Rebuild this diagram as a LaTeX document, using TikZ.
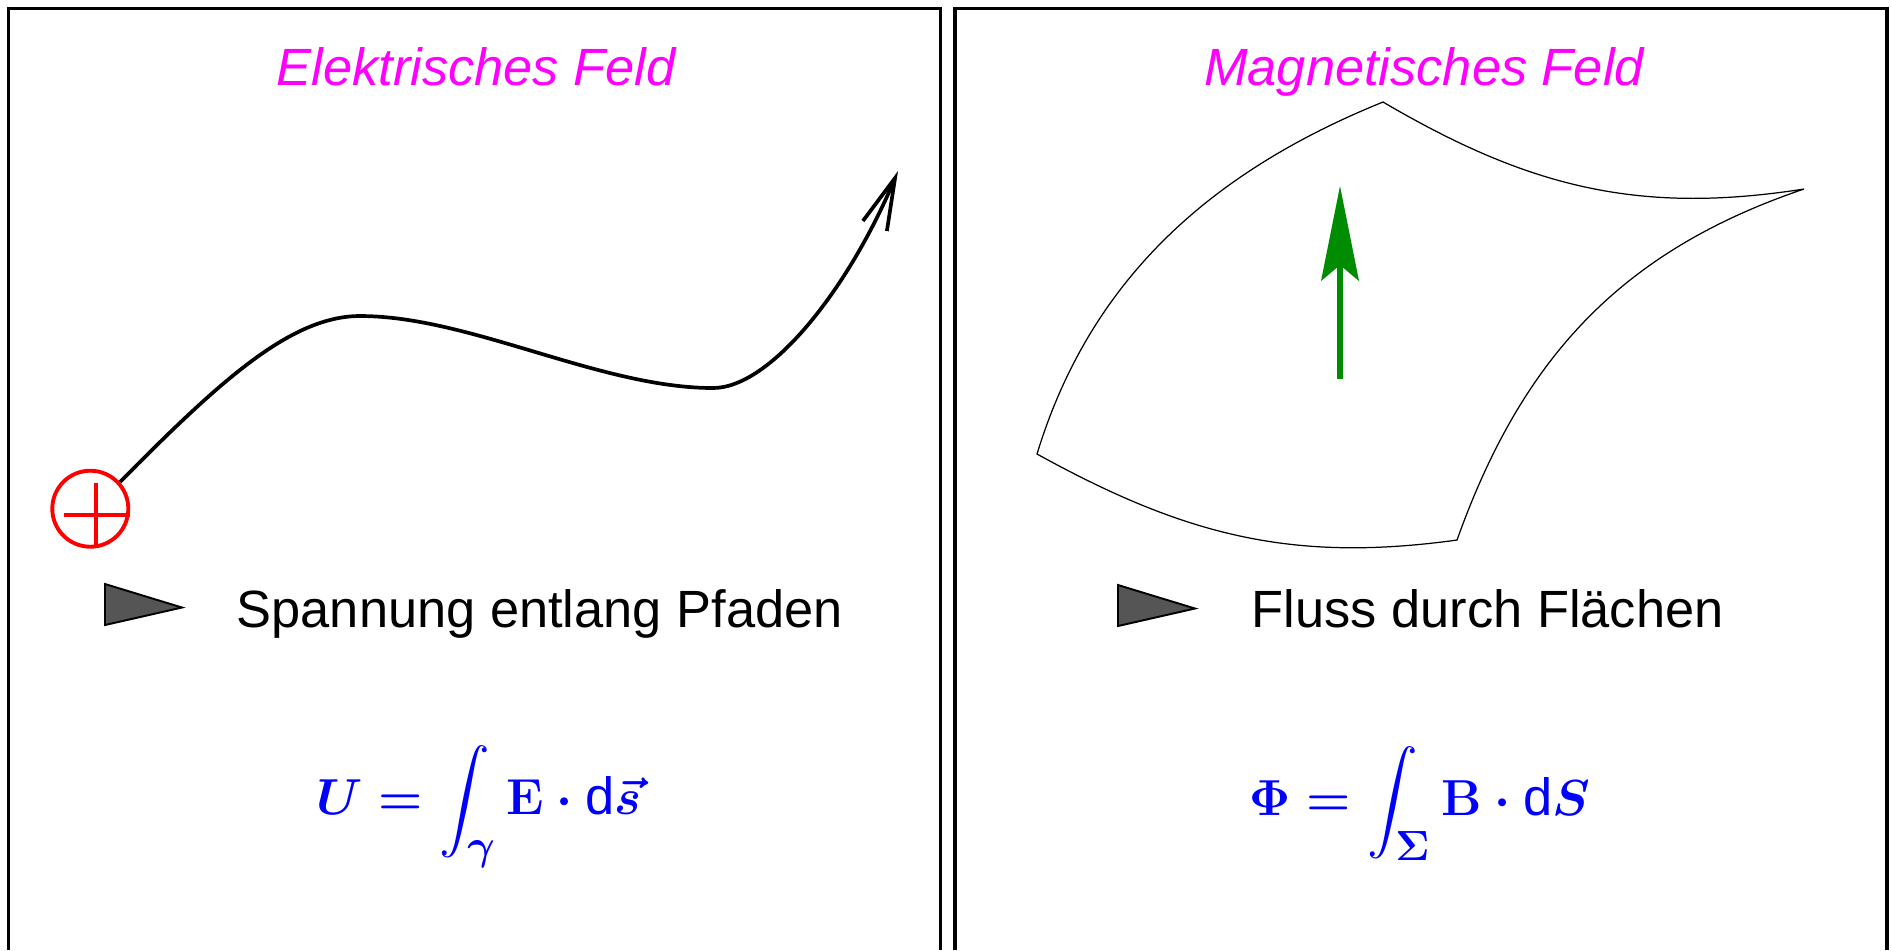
\documentclass[tikz,border=0pt]{standalone}
\usepackage{amsmath}
\usepackage[no-math]{fontspec}
\setmainfont{Liberation Sans}
\DeclareMathSizes{14.9}{14.9}{12}{9}
\definecolor{TitleColor}{RGB}{255,0,255}
\definecolor{FormulaColor}{RGB}{0,0,255}
\definecolor{ChargeColor}{RGB}{255,0,0}
\definecolor{NormalColor}{RGB}{0,140,0}
\definecolor{BulletColor}{RGB}{85,85,85}
\usetikzlibrary{arrows.meta, positioning}
\tikzset{
    panel/.style={draw=black, line width=0.94pt},
    paneltitle/.style={
        font=\fontsize{14.9}{18}\selectfont\itshape,
        text=TitleColor,
        inner sep=0pt,
        anchor=base
    },
    bullet/.style={draw=black, line width=0.55pt, fill=BulletColor},
    bullettext/.style={font=\fontsize{14.9}{18}\selectfont, inner sep=0pt, anchor=base west},
    formula/.style={font=\fontsize{14.9}{18}\selectfont\boldmath, text=FormulaColor, inner sep=0pt, anchor=base},
    charge/.style={circle, draw=ChargeColor, line width=1.1pt, minimum size=0.76cm, inner sep=0pt},
    fieldpath/.style={line width=1.05pt, -{Straight Barb[length=5.2mm,width=2.6mm]}},
    surface/.style={draw=black, line width=0.35pt},
    normalarrow/.style={draw=NormalColor, line width=1.5pt, -{Stealth[length=9.5mm,width=3.8mm,inset=1.6mm,line width=0pt]}}
}

\begin{document}
\begin{tikzpicture}[x=0.01cm, y=-0.01cm]
        \useasboundingbox (0,0) rectangle (1891,950);

        % panels
        \draw[panel] (8.8,950) |- (940.3,8.8) -- (940.3,950);
        \draw[panel] (955,950) |- (1887,8.8) -- (1887,950);

        \node[paneltitle] (etitle) at (476,85) {Elektrisches Feld};
        \node[paneltitle] (mtitle) at (1424,85) {Magnetisches Feld};

        % electric field: charge and path
        \node[charge] (charge) at (90.3,508.7) {};
        \draw[ChargeColor, line width=1.1pt] (64,515) -- (130,515) (95.7,483) -- (95.7,548);

        \coordinate (peak) at (360,316);
        \coordinate (trough) at (713,388);
        \coordinate (tip) at (898,171);
        \draw[fieldpath] (charge.42) .. controls (218,383) and (290,316) .. (peak)
            .. controls (470,316) and (600,388) .. (trough)
            .. controls (770,388) and (848,290) .. (tip);

        \draw[bullet] (105,584) -- (105,625) -- (182,607.5) -- cycle;
        \node[bullettext] (voltage) at (236,627) {Spannung entlang Pfaden};

        \node[formula] (uformula) at (479,814) {$\displaystyle U = \int_\gamma \mathbf{E}\cdot\text{d}\vec{s}$};

        % magnetic field: surface and normal
        \draw[surface] (1037,454) .. controls (1090,280) and (1210,172) .. (1383,102)
            .. controls (1528,187) and (1638,215) .. (1804,189)
            .. controls (1621,251) and (1522,358) .. (1457,540)
            .. controls (1291,563) and (1184,535) .. (1037,454) -- cycle;

        \coordinate (nbase) at (1340,379);
        \coordinate (ntip) at (1340,186);
        \draw[normalarrow] (nbase) -- (ntip);

        \draw[bullet] (1118,585) -- (1118,626) -- (1195,608.5) -- cycle;
        \node[bullettext] (flux) at (1251,627) {Fluss durch Flächen};

        \node[formula] (phiformula) at (1420,815) {$\displaystyle \Phi = \int_\Sigma \mathbf{B}\cdot\text{d}S$};
\end{tikzpicture}
\end{document}
